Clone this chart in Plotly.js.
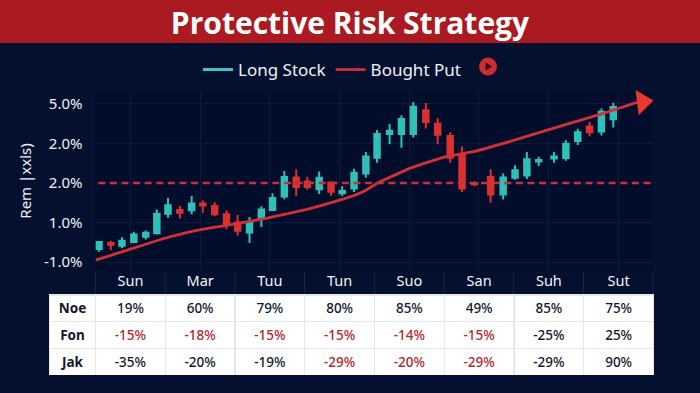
<!DOCTYPE html>
<html>
<head>
<meta charset="utf-8">
<script src="https://cdn.plot.ly/plotly-3.0.1.min.js"></script>
<style>html,body{margin:0;padding:0;background:#03102e}#c{width:700px;height:393px}</style>
</head>
<body>
<div id="c"></div>
<script>
const chartTitle = 'Protective Risk Strategy';
const yAxisTitle = 'Rem |xxls)';
const categories = ['Sun','Mar','Tuu','Tun','Suo','San','Suh','Sut'];
const yTickVals = [0,1,2,3,4];
const yTickText = ['-1.0%','1.0%','2.0%','2.0%','5.0%'];

const candleX = [0.05,0.22,0.38,0.55,0.72,0.88,1.04,1.21,1.38,1.54,1.71,1.88,2.04,2.21,2.38,2.54,2.71,2.88,3.04,3.21,3.38,3.54,3.71,3.88,4.04,4.22,4.39,4.56,4.74,4.91,5.09,5.26,5.44,5.67,5.85,6.02,6.19,6.36,6.58,6.75,6.92,7.09,7.26,7.43];
const candleOpen = [0.33,0.48,0.41,0.51,0.64,0.73,1.22,1.32,1.31,1.48,1.42,1.21,1.00,0.75,1.10,1.32,1.66,2.14,2.04,1.84,2.01,1.74,1.86,2.24,2.64,3.24,3.24,3.24,3.84,3.50,3.19,2.71,1.99,2.15,1.71,2.13,2.19,2.54,2.62,2.63,3.06,3.43,3.30,3.61];
const candleClose = [0.51,0.44,0.54,0.70,0.74,1.22,1.44,1.25,1.48,1.43,1.21,0.95,0.79,1.00,1.33,1.62,2.15,1.90,1.90,2.13,1.78,1.80,2.26,2.67,3.24,3.32,3.62,3.93,3.54,3.22,2.64,1.86,1.97,1.71,2.14,2.32,2.60,2.58,2.67,2.99,3.28,3.28,3.80,3.92];
const candleHigh = [0.52,0.54,0.63,0.77,0.80,1.33,1.62,1.42,1.67,1.56,1.51,1.31,1.19,1.14,1.41,1.74,2.30,2.35,2.16,2.29,2.01,1.92,2.36,2.78,3.34,3.49,3.71,4.05,4.02,3.64,3.28,2.92,2.04,2.35,2.24,2.45,2.78,2.66,2.78,3.08,3.37,3.54,3.88,4.03];
const candleLow = [0.26,0.30,0.35,0.48,0.57,0.70,1.12,1.10,1.21,1.25,1.16,0.83,0.67,0.48,0.89,1.30,1.59,1.67,1.83,1.72,1.68,1.67,1.77,2.13,2.51,2.98,2.89,3.15,3.38,2.98,2.51,1.77,1.91,1.50,1.58,2.08,2.10,2.43,2.51,2.56,2.96,3.18,3.20,3.40];

const putX = [0.00,0.49,0.97,1.45,1.88,2.46,3.03,3.55,3.84,4.05,4.51,4.99,5.42,5.95,6.66,7.29,7.76,7.85];
const putY = [0.05,0.32,0.59,0.80,0.93,1.11,1.33,1.59,1.78,2.00,2.37,2.65,2.79,3.05,3.43,3.76,4.03,4.05];

const refX = [0.04,8];
const refY = [2.0,2.0];

const rowLabels = ['Noe','Fon','Jak'];
const noe = ['19%','60%','79%','80%','85%','49%','85%','75%'];
const fon = ['-15%','-18%','-15%','-15%','-14%','-15%','-25%','25%'];
const jak = ['-35%','-20%','-19%','-29%','-20%','-29%','-29%','90%'];
const fonRed = [true,true,true,true,true,true,false,false];
const jakRed = [false,false,false,true,true,true,false,false];

const W = 700, H = 393;
const px = v => v / W, py = v => 1 - v / H;
const TEAL = '#2fc0b8', RED = '#dc3030', NAVY = '#03102e', INK = '#11172b', CELLRED = '#b4252a';
const FONT = '"Noto Sans", "Open Sans", sans-serif';
const BAND0 = 95.5, BAND = 69.7;

const tableValues = [rowLabels].concat(categories.map((_, i) => [noe[i], fon[i], jak[i]]));
const tableColors = [[INK,INK,INK]].concat(categories.map((_, i) => [INK, fonRed[i] ? CELLRED : INK, jakRed[i] ? CELLRED : INK]));
const tableWeights = [700].concat(categories.map(() => 500));

const traces = [
  { type:'candlestick', x:candleX, open:candleOpen, high:candleHigh, low:candleLow, close:candleClose,
    name:'Candles', showlegend:false, hoverinfo:'skip', whiskerwidth:0,
    increasing:{line:{color:TEAL,width:2},fillcolor:TEAL},
    decreasing:{line:{color:RED,width:2},fillcolor:RED} },
  { type:'scatter', mode:'lines', x:[null], y:[null], name:'Long Stock', line:{color:'#48c3bd',width:3}, hoverinfo:'skip' },
  { type:'scatter', mode:'lines', x:refX, y:refY, showlegend:false, hoverinfo:'skip',
    line:{color:'#c8303a',width:2.5,dash:'7px,4.6px'} },
  { type:'scatter', mode:'lines+markers', x:putX, y:putY, name:'Bought Put', hoverinfo:'skip', cliponaxis:false,
    line:{color:'#d03036',width:2.8,shape:'spline',smoothing:0.3},
    marker:{symbol:'triangle-up', angleref:'previous', color:'#e8382f', opacity:1, line:{width:0},
            size:putX.map((_, i) => i === putX.length - 1 ? 22 : 0)} },
  { type:'table', domain:{x:[px(49.5),px(654)], y:[py(375),py(267)]},
    columnwidth:[46].concat(categories.map(() => BAND)),
    header:{ values:[''].concat(categories), height:28, align:'center',
      fill:{color:'rgba(0,0,0,0)'}, line:{color:'rgba(0,0,0,0)',width:0},
      font:{family:FONT,size:14.5,color:'#f2f5fa'} },
    cells:{ values:tableValues, height:26.7, align:'center',
      fill:{color:'#ffffff'}, line:{color:'#e6e7ea',width:1.2},
      font:{family:FONT,size:13.5,weight:tableWeights,color:tableColors} } }
];

const headerSeps = [0].concat(categories.map((_, i) => i + 1)).map(i => ({
  type:'line', xref:'paper', yref:'paper', x0:px(BAND0 + i * BAND), x1:px(BAND0 + i * BAND),
  y0:py(272), y1:py(294), line:{color:'#1a2847',width:1}
}));

const layout = {
  width:W, height:H, margin:{l:0,r:0,t:0,b:0,autoexpand:false},
  paper_bgcolor:NAVY, plot_bgcolor:'#020d2b', hovermode:false, dragmode:false,
  font:{family:FONT,color:'#f0f3f8'},
  title:{text:'<b>'+chartTitle+'</b>', x:0.5, xanchor:'center', y:py(23), yanchor:'middle',
         font:{family:'"Open Sans", sans-serif',size:30,color:'#ffffff'}},
  showlegend:true,
  legend:{orientation:'h', x:px(198), y:py(52), yanchor:'top', xanchor:'left',
          bgcolor:'rgba(0,0,0,0)', font:{family:FONT,size:17,color:'#eef2f7'}, traceorder:'normal', itemwidth:30},
  xaxis:{domain:[px(BAND0),px(653)], range:[0,8], tickvals:[0.5,1.5,2.5,3.5,4.5,5.5,6.5,7.5],
         showticklabels:false, ticks:'', showgrid:true, gridcolor:'#0c1a3c', gridwidth:1, zeroline:false,
         showline:false, rangeslider:{visible:false}, fixedrange:true},
  yaxis:{domain:[py(270),py(92)], range:[-0.2,4.3], tickvals:yTickVals, ticktext:yTickText,
         ticks:'outside', ticklen:9, tickcolor:'rgba(0,0,0,0)',
         tickfont:{family:FONT,size:15,color:'#eef2f7'}, showgrid:true, gridcolor:'#0c1a3c', gridwidth:1,
         zeroline:false, showline:false, fixedrange:true,
         title:{text:yAxisTitle, font:{family:FONT,size:15,color:'#eef2f7'}, standoff:8}},
  shapes:[
    {type:'rect', xref:'paper', yref:'paper', x0:0, x1:1, y0:py(43), y1:1, fillcolor:'#aa1a20', line:{width:0}, layer:'below'},
    {type:'circle', xref:'paper', yref:'paper', x0:px(479), x1:px(497), y0:py(75.5), y1:py(57.5), fillcolor:'#cf2b30', line:{width:0}},
    {type:'path', xref:'paper', yref:'paper',
     path:`M ${px(485.5)} ${py(62.5)} L ${px(492)} ${py(66.5)} L ${px(485.5)} ${py(70.5)} Z`, fillcolor:'#2a0f24', line:{width:0}}
  ].concat(headerSeps)
};
Plotly.newPlot('c', traces, layout, {displayModeBar:false, staticPlot:true});
</script>
</body>
</html>
